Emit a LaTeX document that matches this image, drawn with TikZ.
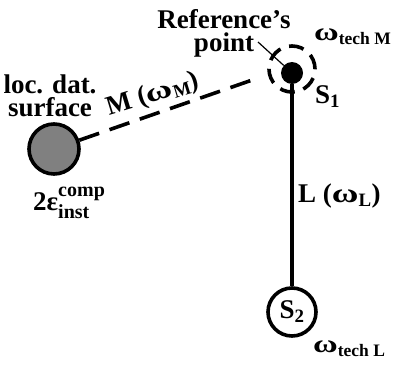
\documentclass[tikz,border=0pt]{standalone}
\usepackage{fontspec}
\setmainfont{Liberation Serif}
\newcommand{\supsubtxt}[2]{\rlap{\raisebox{-.3em}{\fontsize{20}{20}\selectfont #2}}\raisebox{.5em}{\fontsize{20}{20}\selectfont #1}}
\newcommand{\wom}{\scalebox{1.35}[1]{ω}}
\begin{document}
\begin{tikzpicture}[x=1pt,y=-1pt,
  lbl/.style={inner sep=0pt,font=\fontsize{27}{23}\selectfont\bfseries},
  sml/.style={inner sep=0pt,font=\fontsize{25}{25}\selectfont\bfseries},
  thickline/.style={line width=3.6pt},
  every node/.style={inner sep=0pt}]
\useasboundingbox (0,0) rectangle (403,369);
% nodes
\node[circle,draw,line width=3.6pt,fill=gray,minimum size=50pt] (loc) at (54,149) {};
\node[circle,fill=black,minimum size=22pt] (s1) at (292,73) {};
\node[circle,draw,line width=3.6pt,dash pattern=on 15pt off 9pt,minimum size=46pt] (tolM) at (292,69) {};
\node[circle,draw,line width=3.6pt,minimum size=48pt] (s2) at (292,312) {};
\coordinate (mEnd) at (258,78);
\coordinate (lead) at (258,42);
% connectors
\draw[thickline,dash pattern=on 21pt off 11pt] (loc) -- (mEnd);
\draw[thickline] (s1) -- (s2);
\draw[line width=1.2pt] (lead) -- (s1);
% labels
\node[lbl,align=center] (ref) at (224,33) {Reference's\\point};
\node[sml,anchor=west] (wM) at (314,37) {\wom\textsubscript{tech M}};
\node[lbl,anchor=west] (S1l) at (315,97) {S\textsubscript{1}};
\node[lbl,align=center] (locl) at (50,96) {loc. dat.\\surface};
\node[lbl,rotate=17] (Ml) at (153,95) {M (\wom\textsubscript{M})};
\node[lbl,anchor=west] (eps) at (33,203) {2ε\supsubtxt{comp}{inst}};
\node[lbl,anchor=west] (Ll) at (298,196) {L (\wom\textsubscript{L})};
\node[lbl] (S2l) at (292,312) {S\textsubscript{2}};
\node[sml,anchor=west] (wL) at (313,349) {\wom\textsubscript{tech L}};
\end{tikzpicture}
\end{document}
